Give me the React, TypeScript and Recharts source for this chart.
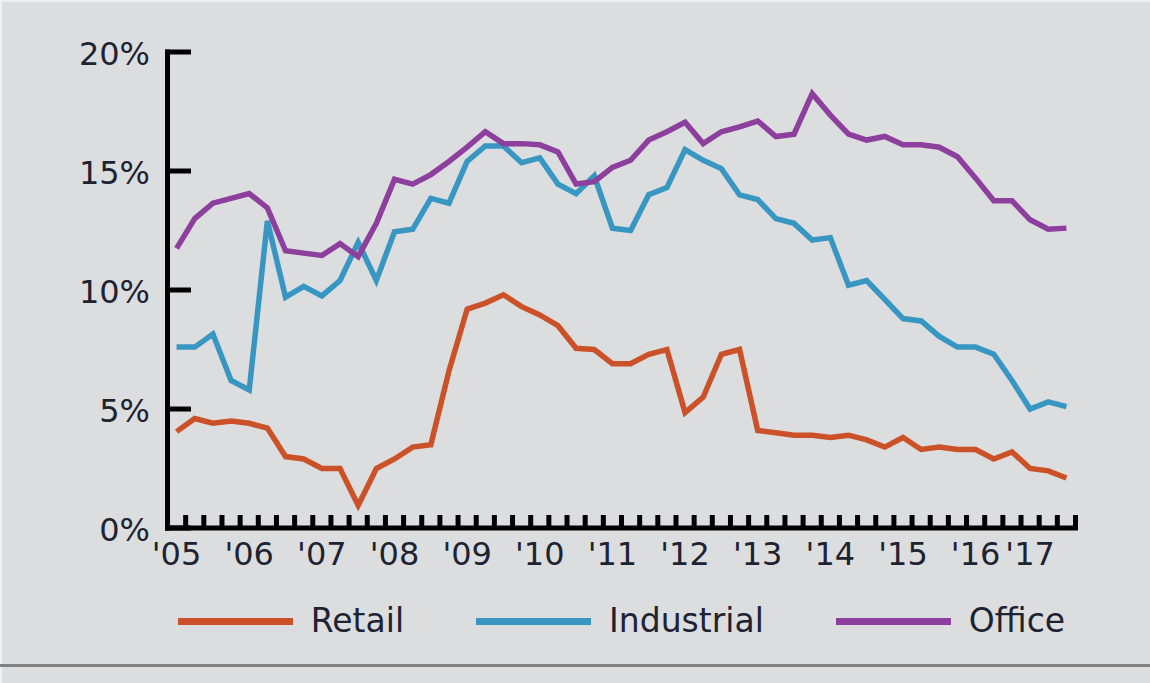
import { LineChart, Line, XAxis, YAxis } from "recharts";

// vacancy rate by quarter, '05 Q1 .. '17 Q2
const quarters = [
  "2005 Q1", "2005 Q2", "2005 Q3", "2005 Q4",
  "2006 Q1", "2006 Q2", "2006 Q3", "2006 Q4",
  "2007 Q1", "2007 Q2", "2007 Q3", "2007 Q4",
  "2008 Q1", "2008 Q2", "2008 Q3", "2008 Q4",
  "2009 Q1", "2009 Q2", "2009 Q3", "2009 Q4",
  "2010 Q1", "2010 Q2", "2010 Q3", "2010 Q4",
  "2011 Q1", "2011 Q2", "2011 Q3", "2011 Q4",
  "2012 Q1", "2012 Q2", "2012 Q3", "2012 Q4",
  "2013 Q1", "2013 Q2", "2013 Q3", "2013 Q4",
  "2014 Q1", "2014 Q2", "2014 Q3", "2014 Q4",
  "2015 Q1", "2015 Q2", "2015 Q3", "2015 Q4",
  "2016 Q1", "2016 Q2", "2016 Q3", "2016 Q4",
  "2017 Q1", "2017 Q2",
];

const retail = [
  4.05, 4.6, 4.4, 4.5, 4.4, 4.2, 3.0, 2.9, 2.5, 2.5,
  0.95, 2.5, 2.9, 3.4, 3.5, 6.6, 9.2, 9.45, 9.8, 9.3,
  8.95, 8.5, 7.55, 7.5, 6.9, 6.9, 7.3, 7.5, 4.85, 5.5,
  7.3, 7.5, 4.1, 4.0, 3.9, 3.9, 3.8, 3.9, 3.7, 3.4,
  3.8, 3.3, 3.4, 3.3, 3.3, 2.9, 3.2, 2.5, 2.4, 2.1,
];

const industrial = [
  7.6, 7.6, 8.15, 6.2, 5.8, 12.9, 9.7, 10.15, 9.75, 10.4,
  12.0, 10.4, 12.45, 12.55, 13.85, 13.65, 15.4, 16.05, 16.05, 15.35,
  15.55, 14.45, 14.05, 14.8, 12.6, 12.5, 14.0, 14.3, 15.9, 15.45,
  15.1, 14.0, 13.8, 13.0, 12.8, 12.1, 12.2, 10.2, 10.4, 9.6,
  8.8, 8.7, 8.05, 7.6, 7.6, 7.3, 6.2, 5.0, 5.3, 5.1,
];

const office = [
  11.75, 13.0, 13.65, 13.85, 14.05, 13.45, 11.65, 11.55, 11.45, 11.95,
  11.4, 12.8, 14.65, 14.45, 14.85, 15.4, 16.0, 16.65, 16.15, 16.15,
  16.1, 15.8, 14.45, 14.55, 15.15, 15.45, 16.3, 16.65, 17.05, 16.15,
  16.65, 16.85, 17.1, 16.45, 16.55, 18.25, 17.35, 16.55, 16.3, 16.45,
  16.1, 16.1, 16.0, 15.6, 14.7, 13.75, 13.75, 12.95, 12.55, 12.6,
];

// year labels and the quarter index they sit on ('17 is pulled in a bit)
const yearTicks = [0, 4, 8, 12, 16, 20, 24, 28, 32, 36, 40, 44, 47];
const yearLabels = ["'05", "'06", "'07", "'08", "'09", "'10", "'11", "'12", "'13", "'14", "'15", "'16", "'17"];
const yTicks = [0, 5, 10, 15, 20];

const series = [
  { key: "retail", name: "Retail", color: "#cb5228" },
  { key: "industrial", name: "Industrial", color: "#3896c3" },
  { key: "office", name: "Office", color: "#8c3f9c" },
];

const data = quarters.map((q, i) => ({
  idx: i,
  quarter: q,
  retail: retail[i],
  industrial: industrial[i],
  office: office[i],
}));

// little marks between quarters on the x axis
const quarterMarks = quarters.map((_, i) => i + 0.5);

const FONT = "'DejaVu Sans', sans-serif";
const TEXT = "#1e2332";
const Y_MARGIN = 17.5;
const MARK_LEN = 13;

const YTick = (props: any) => {
  const { x, y, payload } = props;
  const axisX = x + Y_MARGIN;
  return (
    <g>
      <line x1={axisX - 2.5} x2={axisX + 23.5} y1={y} y2={y} stroke="#000" strokeWidth={5} />
      <text x={x} y={y} dy="0.4em" textAnchor="end" fontSize={32} fontFamily={FONT} fill={TEXT}>
        {payload.value}%
      </text>
    </g>
  );
};

// quarter mark, drawn upward from the axis line
const MarkTick = (props: any) => {
  const { x, y } = props;
  return <line x1={x} x2={x} y1={y} y2={y - MARK_LEN} stroke="#000" strokeWidth={5} />;
};

export default function App() {
  return (
    <div
      style={{
        position: "absolute",
        left: 0,
        top: 0,
        width: 1150,
        height: 683,
        background: "#dcdddf",
        boxShadow: "inset 2px 2px 0 #efefef",
        overflow: "hidden",
      }}
    >
      <LineChart width={1150} height={683} data={data} margin={{ top: 52, right: 74.5, bottom: 115, left: 0 }}>
        <XAxis
          xAxisId="q"
          dataKey="idx"
          type="number"
          domain={[-0.5, 49.5]}
          allowDataOverflow
          ticks={yearTicks}
          interval={0}
          tickFormatter={(v: number) => yearLabels[yearTicks.indexOf(v)] ?? ""}
          tick={{ fontSize: 32, fontFamily: FONT, fill: TEXT }}
          tickLine={false}
          tickSize={0}
          tickMargin={14}
          height={40}
          axisLine={{ stroke: "#000", strokeWidth: 5, strokeLinecap: "square" }}
        />
        <XAxis
          xAxisId="marks"
          dataKey="idx"
          type="number"
          domain={[-0.5, 49.5]}
          allowDataOverflow
          ticks={quarterMarks}
          interval={0}
          mirror
          height={13}
          tickSize={0}
          tickMargin={0}
          tickLine={false}
          tick={<MarkTick />}
          axisLine={false}
        />
        <YAxis
          domain={[0, 20]}
          ticks={yTicks}
          interval={0}
          width={167.5}
          tickSize={0}
          tickMargin={Y_MARGIN}
          tickLine={false}
          tick={<YTick />}
          axisLine={{ stroke: "#000", strokeWidth: 5, strokeLinecap: "square" }}
        />
        {series.map((s) => (
          <Line
            key={s.key}
            xAxisId="q"
            type="linear"
            dataKey={s.key}
            name={s.name}
            stroke={s.color}
            strokeWidth={5.5}
            dot={false}
            activeDot={false}
            isAnimationActive={false}
          />
        ))}
        {/* same values again on the marks axis so that axis gets a scale; drawn with no stroke */}
        <Line xAxisId="marks" dataKey="retail" stroke="none" dot={false} activeDot={false} legendType="none" isAnimationActive={false} />
      </LineChart>

      <div
        style={{
          position: "absolute",
          left: 167.5,
          width: 908,
          top: 603,
          height: 36,
          display: "flex",
          justifyContent: "center",
          alignItems: "center",
          gap: 72,
          fontFamily: FONT,
          fontSize: 33,
          color: TEXT,
        }}
      >
        {series.map((s) => (
          <div key={s.key} style={{ display: "flex", alignItems: "center" }}>
            <span style={{ display: "inline-block", width: 115, height: 7, background: s.color, marginRight: 18 }} />
            <span style={{ lineHeight: "36px" }}>{s.name}</span>
          </div>
        ))}
      </div>

      <div style={{ position: "absolute", left: 0, top: 664, width: 1150, height: 3, background: "#808080" }} />
    </div>
  );
}
